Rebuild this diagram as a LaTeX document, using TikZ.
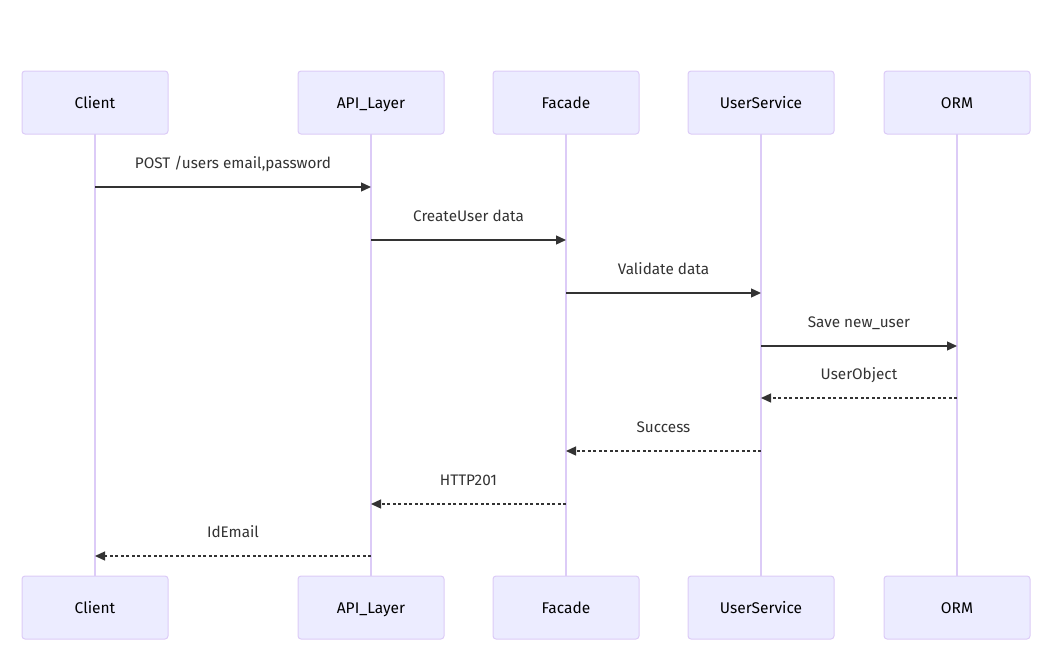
\documentclass[tikz,border=0pt]{standalone}
\usepackage{fontspec}
\setmainfont{Fira Sans}
\usetikzlibrary{arrows.meta}
\definecolor{actorfill}{HTML}{ECECFF}
\definecolor{actorline}{HTML}{DCCBF7}
\definecolor{msgline}{HTML}{333333}
\tikzset{
  actor/.style={draw=actorline, fill=actorfill, line width=1pt, rounded corners=3pt,
    minimum width=146pt, minimum height=63pt, inner sep=0pt, text height=13pt, text depth=1pt,
    font=\fontsize{15.5}{18}\selectfont, text=black},
  lifeline/.style={draw=actorline, line width=1.6pt},
  msg/.style={draw=msgline, line width=1.3pt, -{Triangle[length=10pt,width=9pt]}},
  reply/.style={msg, dash pattern=on 3pt off 2.5pt},
  lbl/.style={font=\fontsize{15.3}{18}\selectfont, text=msgline, inner sep=0pt, text height=11pt, text depth=3pt}
}
\begin{document}
\begin{tikzpicture}[x=1pt,y=-1pt]
\useasboundingbox (0,0) rectangle (1058,653);
% participants
\foreach \name/\lab/\cx in {cl/Client/95, api/API\_Layer/371, fa/Facade/566, us/UserService/761, orm/ORM/957}{
  \draw[lifeline] (\cx,134) -- (\cx,576);
  \node[actor] (\name t) at (\cx,102.5) {\lab};
  \node[actor] (\name b) at (\cx,607.5) {\lab};
}
% message anchors on the lifelines
\foreach \name/\cx in {cl/95, api/371, fa/566, us/761, orm/957}{
  \foreach \i/\yy in {1/187, 2/240, 3/293, 4/346, 5/398, 6/451, 7/504, 8/556}{
    \coordinate (\name\i) at (\cx,\yy);
  }
}
\draw[msg] (cl1) -- node[lbl, above=15pt] {POST /users email,password} (api1);
\draw[msg] (api2) -- node[lbl, above=15pt] {CreateUser data} (fa2);
\draw[msg] (fa3) -- node[lbl, above=15pt] {Validate data} (us3);
\draw[msg] (us4) -- node[lbl, above=15pt] {Save new\_user} (orm4);
\draw[reply] (orm5) -- node[lbl, above=15pt] {UserObject} (us5);
\draw[reply] (us6) -- node[lbl, above=15pt] {Success} (fa6);
\draw[reply] (fa7) -- node[lbl, above=15pt] {HTTP201} (api7);
\draw[reply] (api8) -- node[lbl, above=15pt] {IdEmail} (cl8);
\end{tikzpicture}
\end{document}
